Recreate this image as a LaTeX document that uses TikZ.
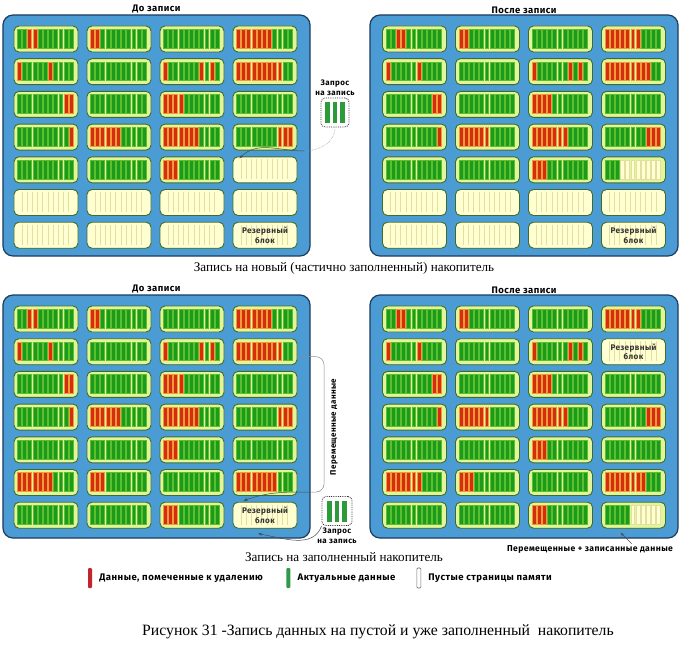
\documentclass[tikz,border=0pt]{standalone}
\usepackage{fontspec}
\setmainfont{Liberation Serif}
\newfontfamily\labelfont[LetterSpace=5]{Fira Sans}
\usetikzlibrary{positioning, arrows.meta, calc}
\usepackage{xcolor}
\definecolor{ssdblue}{HTML}{4B9BD5}
\definecolor{ssdnavy}{HTML}{1D3D5E}
\definecolor{ssdlime}{HTML}{E2F59A}
\definecolor{ssdrim}{HTML}{3B6E2A}
\definecolor{ssdcream}{HTML}{FFFFD2}
\definecolor{pageg}{HTML}{1C9A1C}
\definecolor{edgeg}{HTML}{5CC02E}
\definecolor{pager}{HTML}{D32E0E}
\definecolor{edger}{HTML}{F29A3A}
\definecolor{pagee}{HTML}{FFFFD2}
\definecolor{edgee}{HTML}{E3DFA2}
\definecolor{reqgreen}{HTML}{2E9B3A}
\definecolor{legred}{HTML}{C0262C}
\definecolor{leggreen}{HTML}{2F9A4A}

\tikzset{
  panel/.style={draw=ssdnavy, fill=ssdblue, line width=1.2bp, rounded corners=10bp, inner sep=0pt},
  usedblk/.style={draw=ssdrim, fill=ssdlime, line width=0.9bp, rounded corners=5bp,
                  minimum width=64bp, minimum height=26bp, inner sep=0pt},
  freeblk/.style={usedblk, fill=ssdcream},
  pagebar/.style={line width=0.5bp},
  freeline/.style={draw=edgee, line width=0.6bp},
  title/.style={font=\labelfont\bfseries\fontsize{9.5}{11}\selectfont, inner sep=1bp},
  sparelab/.style={font=\labelfont\bfseries\fontsize{8.2}{9.5}\selectfont, align=center,
                   text=black!80, inner sep=0pt},
  note/.style={font=\labelfont\bfseries\fontsize{8}{9.5}\selectfont, align=center, inner sep=1bp},
  caption/.style={font=\fontsize{13.2}{15}\selectfont, inner sep=1bp},
  reqbox/.style={draw=black!80, densely dotted, line width=0.8bp, rounded corners=4bp,
                 minimum width=28bp, minimum height=29bp, inner sep=0pt},
  movlink/.style={draw=black!70, line width=0.5bp, -{Stealth[length=4bp, width=3bp]}},
  guide/.style={draw=black!45, line width=0.5bp},
  legbar/.style={minimum width=4bp, minimum height=20bp, inner sep=0pt, rounded corners=1bp},
  legtext/.style={font=\labelfont\bfseries\fontsize{9.6}{11}\selectfont, inner sep=1bp}
}

% pages of one block, one letter per page: g, r or e
\newcount\pagenum
\newcommand{\pagesweep}[1]{%
  \ifx\relax#1\else
    \path[pagebar, fill=page#1, draw=edge#1]
      ($(\curblk.north west)+(3.8+\the\pagenum*5.18,3.6)$) rectangle ++(3.9,18.8);
    \global\advance\pagenum by 1
    \expandafter\pagesweep
  \fi}
\newcommand{\freelines}[1]{%
  \foreach \k in {1,...,10}
    \draw[freeline] ($(#1.north west)+(3.2+\k*5.18,3)$) -- ++(0,20);}
\def\freepat{free}
\def\sparepat{spare}
% one drive: name prefix, centre of its first block, rows of blocks
\newcommand{\drawdrive}[3]{%
  \foreach \row [count=\j] in {#3} {
    \foreach \blk [count=\i] in \row {
      \coordinate (#1pos) at ($(#2)+(\i*73-73,\j*32.7-32.7)$);
      \ifx\blk\freepat
        \node[freeblk] (#1\j\i) at (#1pos) {};
        \freelines{#1\j\i}
      \else\ifx\blk\sparepat
        \node[freeblk] (#1\j\i) at (#1pos) {};
        \freelines{#1\j\i}
        \node[sparelab] (#1\j\i lab) at (#1\j\i) {Резервный\\блок};
      \else
        \node[usedblk] (#1\j\i) at (#1pos) {};
        \global\pagenum=0
        \edef\curblk{#1\j\i}
        \expandafter\pagesweep\blk\relax
      \fi\fi
    }}}

\begin{document}
\begin{tikzpicture}[x=1bp, y=-1bp]
\useasboundingbox (0,0) rectangle (691,653);
\fill[white] (0,0) rectangle (691,653);

% drives
\node[panel, minimum width=307bp, minimum height=241bp] (ssd1) at (156.5,135.5) {};
\node[panel, minimum width=308bp, minimum height=241bp] (ssd2) at (524,135.5) {};
\node[panel, minimum width=307bp, minimum height=243bp] (ssd3) at (156.5,416.5) {};
\node[panel, minimum width=308bp, minimum height=243bp] (ssd4) at (524,416.5) {};
\node[title, above=0bp of ssd1] (ttl1) {До записи};
\node[title, above=0bp of ssd2] (ttl2) {После записи};
\node[title, above=0bp of ssd3] (ttl3) {До записи};
\node[title, above=0bp of ssd4] (ttl4) {После записи};

\drawdrive{a}{46,39}{%
  {ggrrggggggg,rrggggggggg,ggggggggggg,rrrrrrrgggg},
  {rgggggrgggg,ggggggggggg,rggggggrgrg,rrrrrrrrrgg},
  {gggggggggrr,ggggggggggg,rrrrggggggg,ggggggggggg},
  {ggggggggggr,rrrrrrggggg,rrrrrrrgggg,ggggggggrrr},
  {ggggggggggg,ggggggggggg,rrrgggggggg,free},
  {free,free,free,free},
  {free,free,free,spare}}
\drawdrive{b}{414.5,39}{%
  {ggrrggggggg,rrggggggggg,ggggggggggg,rrrrrrrgggg},
  {rgggggrgggg,ggggggggggg,rggggggrgrg,rrrrrrrrrgg},
  {gggggggggrr,ggggggggggg,rrrrggggggg,ggggggggggg},
  {ggggggggggr,rrrrrrggggg,rrrrrrrgggg,ggggggggrrr},
  {ggggggggggg,ggggggggggg,rrrgggggggg,gggeeeeeeee},
  {free,free,free,free},
  {free,free,free,spare}}
\drawdrive{c}{46,319}{%
  {ggrrggggggg,rrggggggggg,ggggggggggg,rrrrrrrgggg},
  {rgggggrgggg,ggggggggggg,rggggggrgrg,rrrrrrrrrgg},
  {gggggggggrr,ggggggggggg,rrrrggggggg,ggggggggggg},
  {ggggggggggr,rrrrrrggggg,rrrrrrrgggg,ggggggggrrr},
  {ggggggggggg,ggggggggggg,rrrgggggggg,ggggggggggg},
  {rrrrrrrgggg,rrrgggggggg,ggggggggggg,rrrrrrrrggg},
  {ggggggggggg,ggggggggggg,rrrgggggggg,spare}}
\drawdrive{d}{414.5,319}{%
  {ggrrggggggg,rrggggggggg,ggggggggggg,rrrrrrrgggg},
  {rgggggrgggg,ggggggggggg,rggggggrgrg,spare},
  {gggggggggrr,ggggggggggg,rrrrggggggg,ggggggggggg},
  {ggggggggggr,rrrrrrggggg,rrrrrrrgggg,ggggggggrrr},
  {ggggggggggg,ggggggggggg,rrrgggggggg,ggggggggggg},
  {rrrrrrrgggg,rrrgggggggg,ggggggggggg,rrrrrrrrggg},
  {ggggggggggg,ggggggggggg,rrrgggggggg,gggggeeeeee}}

% write request, new drive
\node[reqbox] (req1) at (335,112.5) {};
\foreach \k in {-1,0,1}
  \fill[reqgreen] ($(req1)+(\k*7.5-2.3,-10.5)$) rectangle ++(4.6,21);
\node[note, above=1bp of req1] (reqlab1) {Запрос\\на запись};
\coordinate (turn1) at (304,151);
\draw[guide, densely dotted] (req1.south) to[out=-90,in=0] (turn1);
\draw[movlink] (turn1) to[out=180,in=45] ($(a54.north west)+(7,2)$);

% write request, full drive
\node[reqbox, minimum width=30bp] (req2) at (337,511) {};
\foreach \k in {-1,0,1}
  \fill[reqgreen] ($(req2)+(\k*7.5-2.3,-10.5)$) rectangle ++(4.6,21);
\node[note, below=1bp of req2] (reqlab2) {Запрос\\на запись};
\coordinate (turn2) at (324,492);
\coordinate (turn3) at (310,492);
\draw[guide, rounded corners=8bp] ([yshift=-5bp]c24.east) -| (turn2) -- (turn3);
\draw[movlink] (turn3) to[out=180,in=20] ($(c74.north west)+(11,-1)$);
\node[note, rotate=90] (movlab) at (334,427) {Перемещенные данные};
\draw[movlink] (req2.south west) to[out=-110,in=-10] ($(c74.south)+(-7,5)$);
\node[note, font=\labelfont\bfseries\fontsize{8.6}{10}\selectfont] (movedlab) at (590,549)
  {Перемещенные + записанные данные};
\draw[movlink] ([xshift=42bp]movedlab.north) -- ($(d74.south)+(-13,4)$);

% captions
\node[caption] (cap1) at (344,268) {Запись на новый (частично заполненный) накопитель};
\node[caption] (cap2) at (344,557) {Запись на заполненный накопитель};
\node[caption, font=\fontsize{15.8}{18}\selectfont] (cap3) at (378,632)
  {Рисунок 31 -Запись данных на пустой и уже заполненный~ накопитель};

% legend
\node[legbar, fill=legred] (legdel) at (90,578) {};
\node[legtext, right=6bp of legdel] (legdeltxt) {Данные, помеченные к удалению};
\node[legbar, fill=leggreen, right=22bp of legdeltxt] (legact) {};
\node[legtext, right=6bp of legact] (legacttxt) {Актуальные данные};
\node[legbar, fill=white, draw=black!55, line width=0.6bp, right=20bp of legacttxt] (legfree) {};
\node[legtext, right=6bp of legfree] (legfreetxt) {Пустые страницы памяти};
\end{tikzpicture}
\end{document}
